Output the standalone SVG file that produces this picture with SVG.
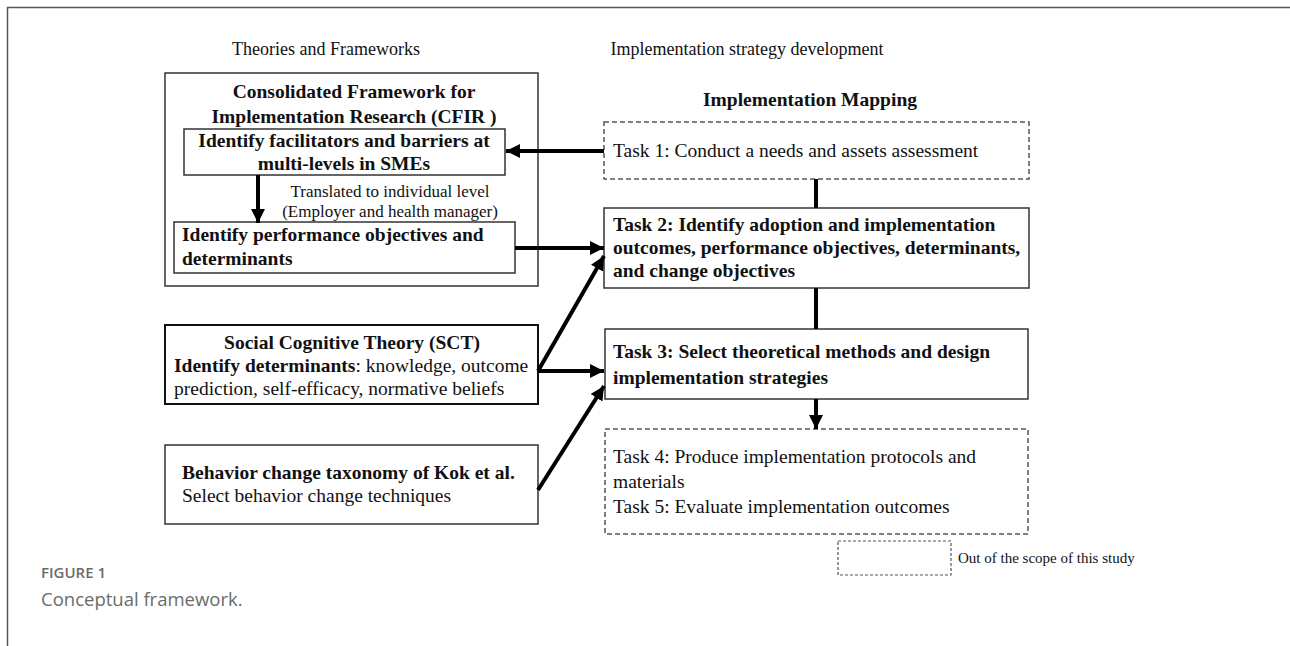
<svg xmlns="http://www.w3.org/2000/svg" width="1290" height="646" viewBox="0 0 1290 646">
<style>
.t{font-family:"Liberation Serif","Times New Roman",serif;fill:#111;font-size:19.5px}
.b{font-weight:bold}
.h{font-size:18px}
.s{font-size:17px}
.box{fill:#fff;stroke:#333;stroke-width:1.5}
.dbox{fill:#fff;stroke:#555;stroke-width:1.5;stroke-dasharray:5 3}
.cap{font-family:"Open Sans","Liberation Sans",sans-serif;fill:#6b6b6b}
.ln{stroke:#000;stroke-width:4;fill:none}
</style>
<defs>
<marker id="ah" viewBox="0 0 10 10" refX="10" refY="5" markerWidth="14" markerHeight="14" markerUnits="userSpaceOnUse" orient="auto">
<path d="M0,0 L10,5 L0,10 Z" fill="#000"/>
</marker>
</defs>
<rect width="1290" height="646" fill="#fff"/>
<g id="frame"><path d="M7.5,646 V7.5 H1290" fill="none" stroke="#555" stroke-width="1.5"/></g>
<g id="headers">
<text class="t h" x="326" y="55" text-anchor="middle">Theories and Frameworks</text>
<text class="t h" x="747" y="55" text-anchor="middle">Implementation strategy development</text>
</g>
<g id="cfir">
<rect class="box" x="165" y="73" width="373" height="213"/>
<text class="t b" x="354" y="98" text-anchor="middle">Consolidated Framework for</text>
<text class="t b" x="354" y="123" text-anchor="middle">Implementation Research (CFIR )</text>
</g>
<g id="facilitators">
<rect class="box" x="184" y="129" width="321" height="46"/>
<text class="t b" x="344" y="147" text-anchor="middle">Identify facilitators and barriers at</text>
<text class="t b" x="344" y="170" text-anchor="middle">multi-levels in SMEs</text>
</g>
<g id="translated">
<text class="t s" x="390" y="197" text-anchor="middle">Translated  to individual level</text>
<text class="t s" x="390" y="217" text-anchor="middle">(Employer and health manager)</text>
</g>
<g id="performance">
<rect class="box" x="174" y="222" width="341" height="51"/>
<text class="t b" x="182" y="241">Identify performance objectives and</text>
<text class="t b" x="182" y="265">determinants</text>
</g>
<g id="sct">
<rect class="box" x="165" y="325" width="373" height="79" style="stroke:#111;stroke-width:2"/>
<text class="t b" x="352" y="349" text-anchor="middle">Social Cognitive Theory (SCT)</text>
<text class="t" x="174" y="372"><tspan class="b">Identify determinants</tspan>: knowledge, outcome</text>
<text class="t" x="174" y="395">prediction, self-efficacy, normative beliefs</text>
</g>
<g id="kok">
<rect class="box" x="165" y="445" width="373" height="79"/>
<text class="t b" x="182" y="479">Behavior change taxonomy of Kok et al.</text>
<text class="t" x="182" y="502">Select behavior change techniques</text>
</g>
<g id="im-title">
<text class="t b" x="810" y="106" text-anchor="middle">Implementation Mapping</text>
</g>
<g id="task1">
<rect class="dbox" x="604" y="122" width="425" height="57"/>
<text class="t" x="613" y="157">Task 1: Conduct a needs and assets assessment</text>
</g>
<g id="task2">
<rect class="box" x="604" y="208" width="425" height="80"/>
<text class="t b" x="613" y="231">Task 2: Identify adoption and implementation</text>
<text class="t b" x="613" y="254">outcomes, performance objectives, determinants,</text>
<text class="t b" x="613" y="277">and change objectives</text>
</g>
<g id="task3">
<rect class="box" x="605" y="329" width="423" height="70"/>
<text class="t b" x="613" y="358">Task 3: Select theoretical methods and design</text>
<text class="t b" x="613" y="384">implementation strategies</text>
</g>
<g id="task45">
<rect class="dbox" x="605" y="429" width="423" height="105"/>
<text class="t" x="613" y="463">Task 4: Produce implementation protocols and</text>
<text class="t" x="613" y="488">materials</text>
<text class="t" x="613" y="513">Task 5: Evaluate implementation outcomes</text>
</g>
<g id="legend">
<rect x="838" y="541" width="113" height="34" fill="#fff" stroke="#555" stroke-width="1.2" stroke-dasharray="3 2"/>
<text class="t" x="958" y="563" style="font-size:15px">Out of the scope of this study</text>
</g>
<g id="connectors">
<line class="ln" x1="604" y1="151" x2="506" y2="151" marker-end="url(#ah)"/>
<line class="ln" x1="258" y1="175" x2="258" y2="223" marker-end="url(#ah)"/>
<line class="ln" x1="515" y1="248" x2="604" y2="248" marker-end="url(#ah)"/>
<line class="ln" x1="816" y1="179" x2="816" y2="208"/>
<line class="ln" x1="816" y1="288" x2="816" y2="329"/>
<line class="ln" x1="816" y1="399" x2="816" y2="429" marker-end="url(#ah)"/>
<line class="ln" x1="538" y1="371" x2="604" y2="256" marker-end="url(#ah)"/>
<line class="ln" x1="538" y1="371" x2="604" y2="371" marker-end="url(#ah)"/>
<line class="ln" x1="538" y1="490" x2="604" y2="386" marker-end="url(#ah)"/>
</g>
<g id="caption">
<text class="cap" x="41" y="578" style="font-size:15px;font-weight:600">FIGURE 1</text>
<text class="cap" x="41" y="606" style="font-size:18.5px">Conceptual framework.</text>
</g>
</svg>
